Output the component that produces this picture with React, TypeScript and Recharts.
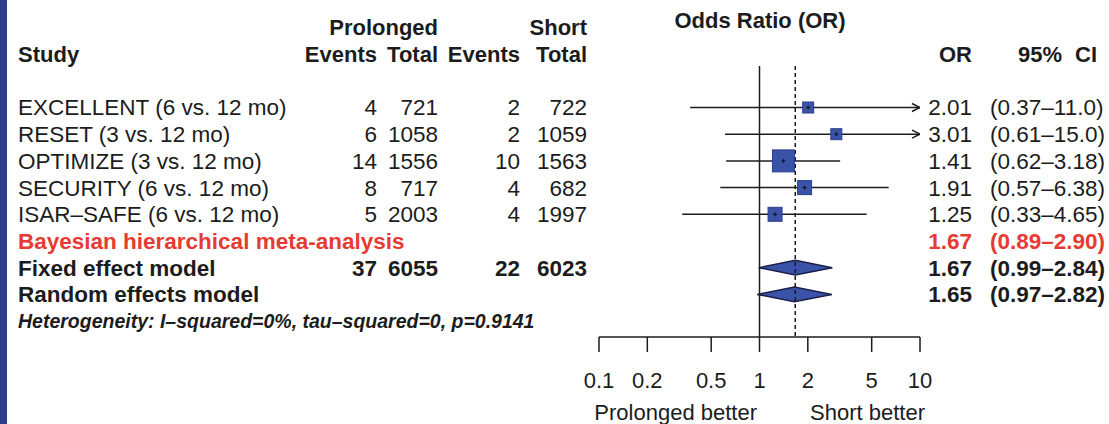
import React from 'react';
import { ComposedChart, XAxis, YAxis, Scatter, Area, ReferenceLine } from 'recharts';

// ---------- data ----------
const studyNames = [
  'EXCELLENT (6 vs. 12 mo)',
  'RESET (3 vs. 12 mo)',
  'OPTIMIZE (3 vs. 12 mo)',
  'SECURITY (6 vs. 12 mo)',
  'ISAR–SAFE (6 vs. 12 mo)',
];
const prolongedEvents = [4, 6, 14, 8, 5];
const prolongedTotal = [721, 1058, 1556, 717, 2003];
const shortEvents = [2, 2, 10, 4, 4];
const shortTotal = [722, 1059, 1563, 682, 1997];
const studyOR = [2.01, 3.01, 1.41, 1.91, 1.25];
const studyLower = [0.37, 0.61, 0.62, 0.57, 0.33];
const studyUpper = [11.0, 15.0, 3.18, 6.38, 4.65];
const studyWeight = [10.8, 10.8, 43.1, 17.5, 17.5];

const pooledNames = ['Bayesian hierarchical meta-analysis', 'Fixed effect model', 'Random effects model'];
const pooledOR = [1.67, 1.67, 1.65];
const pooledLower = [0.89, 0.99, 0.97];
const pooledUpper = [2.9, 2.84, 2.82];
const pooledHasDiamond = [false, true, true];
const pooledTotals = [null, [37, 6055, 22, 6023], null];

const xTicks = [0.1, 0.2, 0.5, 1, 2, 5, 10];
const xMax = 10;
const summaryLine = 1.67;
const heterogeneityText = 'Heterogeneity: I–squared=0%, tau–squared=0, p=0.9141';

// ---------- style ----------
const FONT = '"Liberation Sans", Arial, Helvetica, sans-serif';
const INK = '#1c1c1c';
const RED = '#e63b33';
const BLUE = '#3a53a8';
const ROW_FS = 22.5;

const nStudies = studyNames.length;
const pooledRow = (i: number) => nStudies + i;
const hetRow = nStudies + pooledNames.length;
const rowTicks = [-3, -2, ...studyNames.map((_, i) => i), ...pooledNames.map((_, i) => pooledRow(i)), hetRow];

const fmtCI = (v: number) => (v >= 10 ? v.toFixed(1) : v.toFixed(2));

const squareData = studyNames.map((_, i) => ({ x: studyOR[i], y: i, w: studyWeight[i] }));
const arrowData = studyNames
  .map((_, i) => ({ x: xMax, y: i, hi: studyUpper[i] }))
  .filter((d) => d.hi > xMax);

const T = (x: number, y: number, s: string | number, anchor: 'start' | 'end' | 'middle', opts: any = {}) => (
  <text
    x={x}
    y={y}
    textAnchor={anchor}
    fontFamily={FONT}
    fontSize={opts.size ?? ROW_FS}
    fontWeight={opts.bold ? 'bold' : 'normal'}
    fontStyle={opts.italic ? 'italic' : 'normal'}
    fill={opts.color ?? INK}
  >
    {s}
  </text>
);

function RowTick(props: any) {
  const { y, payload } = props;
  const r = payload.value as number;
  const b = y + 8;
  if (r === -3) {
    return (
      <g>
        {T(438, b, 'Prolonged', 'end', { bold: true, size: 22 })}
        {T(587, b, 'Short', 'end', { bold: true, size: 22 })}
        {T(760, b - 7, 'Odds Ratio (OR)', 'middle', { bold: true, size: 22 })}
      </g>
    );
  }
  if (r === -2) {
    return (
      <g>
        {T(18, b, 'Study', 'start', { bold: true, size: 22 })}
        {T(377, b, 'Events', 'end', { bold: true, size: 22 })}
        {T(438, b, 'Total', 'end', { bold: true, size: 22 })}
        {T(520, b, 'Events', 'end', { bold: true, size: 22 })}
        {T(587, b, 'Total', 'end', { bold: true, size: 22 })}
        {T(972, b, 'OR', 'end', { bold: true, size: 22 })}
        {T(1018, b, '95%', 'start', { bold: true, size: 22 })}
        {T(1097, b, 'CI', 'end', { bold: true, size: 22 })}
      </g>
    );
  }
  if (r >= 0 && r < nStudies) {
    return (
      <g>
        {T(18, b, studyNames[r], 'start')}
        {T(377, b, prolongedEvents[r], 'end')}
        {T(438, b, prolongedTotal[r], 'end')}
        {T(520, b, shortEvents[r], 'end')}
        {T(587, b, shortTotal[r], 'end')}
        {T(972, b, studyOR[r].toFixed(2), 'end')}
        {T(990, b, `(${fmtCI(studyLower[r])}–${fmtCI(studyUpper[r])})`, 'start')}
      </g>
    );
  }
  if (r >= nStudies && r < hetRow) {
    const i = r - nStudies;
    const color = i === 0 ? RED : INK;
    const tot = pooledTotals[i];
    return (
      <g>
        {T(18, b, pooledNames[i], 'start', { bold: true, color })}
        {tot && T(377, b, tot[0], 'end', { bold: true })}
        {tot && T(438, b, tot[1], 'end', { bold: true })}
        {tot && T(520, b, tot[2], 'end', { bold: true })}
        {tot && T(587, b, tot[3], 'end', { bold: true })}
        {T(972, b, pooledOR[i].toFixed(2), 'end', { bold: true, color })}
        {T(990, b, `(${fmtCI(pooledLower[i])}–${fmtCI(pooledUpper[i])})`, 'start', { bold: true, color })}
      </g>
    );
  }
  if (r === hetRow) {
    return <g>{T(18, y + 7, heterogeneityText, 'start', { bold: true, italic: true, size: 19.5 })}</g>;
  }
  return <g />;
}

const SquareShape = (p: any) => {
  const s = 3.35 * Math.sqrt(p.payload.w);
  return (
    <g>
      <rect x={p.cx - s / 2} y={p.cy - s / 2} width={s} height={s} fill={BLUE} stroke="#2c3f8c" strokeWidth={1} />
      <path d={`M${p.cx - 2},${p.cy}h4M${p.cx},${p.cy - 2}v4`} stroke="#111" strokeWidth={1} />
    </g>
  );
};

const ArrowShape = (p: any) => (
  <path
    d={`M${p.cx - 8},${p.cy - 4}L${p.cx},${p.cy}L${p.cx - 8},${p.cy + 4}`}
    fill="none"
    stroke={INK}
    strokeWidth={1.5}
  />
);

const DIAMOND_HALF = 0.275;

export default function App() {
  return (
    <div style={{ position: 'absolute', left: 0, top: 0, width: 1109, height: 424, background: '#fff' }}>
      <div style={{ position: 'absolute', left: 0, top: 0, width: 7, height: 424, background: '#2d3f8c' }} />
      <ComposedChart width={1109} height={424} margin={{ top: 0, right: 189, bottom: 0, left: 598 }}>
        <XAxis
          type="number"
          dataKey="x"
          scale="log"
          domain={[0.1, 10]}
          allowDataOverflow
          ticks={xTicks}
          interval={0}
          tickFormatter={(v: number) => String(v)}
          height={87}
          tickSize={15}
          tickMargin={20}
          axisLine={{ stroke: INK, strokeWidth: 1.5 }}
          tickLine={{ stroke: INK, strokeWidth: 1.5 }}
          tick={{ fontSize: 22, fill: INK, fontFamily: FONT }}
        />
        <YAxis
          type="number"
          dataKey="y"
          domain={[-4.0262, 8.5955]}
          reversed
          allowDataOverflow
          ticks={rowTicks}
          interval={0}
          tick={<RowTick />}
          width={1}
          axisLine={false}
          tickLine={false}
        />
        <ReferenceLine
          segment={[{ x: 1, y: -1.554 }, { x: 1, y: 8.5955 }]}
          stroke={INK}
          strokeWidth={1.5}
        />
        <ReferenceLine
          segment={[{ x: summaryLine, y: -1.554 }, { x: summaryLine, y: 8.5955 }]}
          stroke={INK}
          strokeWidth={1.5}
          strokeDasharray="4 3"
        />
        {studyNames.map((_, i) => (
          <ReferenceLine
            key={`ci${i}`}
            segment={[{ x: studyLower[i], y: i }, { x: Math.min(studyUpper[i], xMax), y: i }]}
            stroke={INK}
            strokeWidth={1.5}
          />
        ))}
        {pooledNames.map((_, i) =>
          pooledHasDiamond[i] ? (
            <Area
              key={`d${i}`}
              data={[
                { x: pooledLower[i], band: [pooledRow(i), pooledRow(i)] },
                { x: pooledOR[i], band: [pooledRow(i) - DIAMOND_HALF, pooledRow(i) + DIAMOND_HALF] },
                { x: pooledUpper[i], band: [pooledRow(i), pooledRow(i)] },
              ]}
              dataKey="band"
              type="linear"
              fill={BLUE}
              fillOpacity={1}
              stroke="#1a1f4a"
              strokeWidth={1.5}
              isAnimationActive={false}
              dot={false}
              activeDot={false}
            />
          ) : null
        )}
        <Scatter data={squareData} shape={SquareShape} isAnimationActive={false} />
        <Scatter data={arrowData} shape={ArrowShape} isAnimationActive={false} />
        <text x={757} y={420} textAnchor="end" fontFamily={FONT} fontSize={22} fill={INK}>
          Prolonged better
        </text>
        <text x={810} y={420} textAnchor="start" fontFamily={FONT} fontSize={22} fill={INK}>
          Short better
        </text>
      </ComposedChart>
    </div>
  );
}
